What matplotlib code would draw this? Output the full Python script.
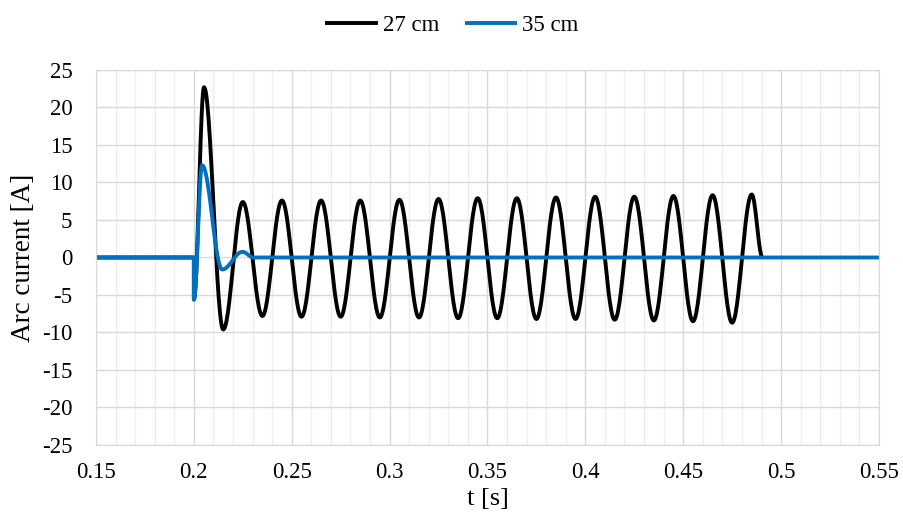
import matplotlib
matplotlib.use("Agg")
import matplotlib.pyplot as plt
from matplotlib.ticker import MultipleLocator
import numpy as np

# extrema (t [s], current [A])
t_27 = [0.15, 0.2, 0.2, 0.2052, 0.2150,
        0.225, 0.235, 0.245, 0.255, 0.265, 0.275, 0.285, 0.295, 0.305, 0.315,
        0.325, 0.335, 0.345, 0.355, 0.365, 0.375, 0.385, 0.395, 0.405, 0.415,
        0.425, 0.435, 0.445, 0.455, 0.465, 0.475, 0.485, 0.4905]
i_27 = [0.0, 0.0, -5.6, 22.7, -9.6,
        7.4, -7.8, 7.6, -7.9, 7.6, -7.9, 7.6, -8.0, 7.7, -8.0,
        7.8, -8.1, 7.9, -8.1, 7.9, -8.2, 8.0, -8.2, 8.1, -8.3,
        8.1, -8.4, 8.2, -8.5, 8.3, -8.7, 8.4, 0.0]

t_35 = [0.15, 0.2, 0.2, 0.2042, 0.2145, 0.2248, 0.2305, 0.55]
i_35 = [0.0, 0.0, -5.6, 12.3, -1.6, 0.75, 0.0, 0.0]

x_labels = ['0.15', '0.2', '0.25', '0.3', '0.35', '0.4', '0.45', '0.5', '0.55']


def smooth(ts, vs, n=30):
    # half-cosine segments between consecutive extrema
    xs, ys = [ts[0]], [vs[0]]
    for k in range(len(ts) - 1):
        t0, t1, v0, v1 = ts[k], ts[k + 1], vs[k], vs[k + 1]
        if t1 - t0 < 1e-9 or (v0 == 0 and v1 == 0):
            xs.append(t1)
            ys.append(v1)
            continue
        s = np.linspace(0, 1, n)[1:]
        xs.extend(t0 + (t1 - t0) * s)
        ys.extend(v0 + (v1 - v0) * (1 - np.cos(np.pi * s)) / 2)
    return np.array(xs), np.array(ys)


plt.rcParams['font.family'] = ['Liberation Serif', 'DejaVu Serif']
plt.rcParams['axes.unicode_minus'] = False

fig = plt.figure(figsize=(9.04, 5.25), dpi=100)
ax = fig.add_axes([0.1062, 0.1524, 0.8661, 0.7143])

x1, y1 = smooth(t_27, i_27)
x2, y2 = smooth(t_35, i_35)
ax.plot(x1, y1, color='black', lw=2.8, label='27 cm', solid_capstyle='butt')
ax.plot(x2, y2, color='#0070C0', lw=2.8, label='35 cm', solid_capstyle='butt')

ax.set_xlim(0.15, 0.55)
ax.set_ylim(-25, 25)
ax.set_xticks(np.arange(0.15, 0.551, 0.05))
ax.set_xticklabels(x_labels)
ax.set_yticks(np.arange(-25, 26, 5))
ax.xaxis.set_minor_locator(MultipleLocator(0.01))
ax.grid(which='major', color='#d9d9d9', lw=1.0)
ax.grid(which='minor', axis='x', color='#eeeeee', lw=1.0)
ax.set_axisbelow(True)
ax.tick_params(which='both', length=0, labelsize=16.5)
ax.tick_params(axis='y', pad=17)
ax.tick_params(axis='x', pad=12)
for sp in ax.spines.values():
    sp.set_color('#d9d9d9')

ax.set_xlabel('t [s]', fontsize=19, labelpad=4)
ax.set_ylabel('Arc current [A]', fontsize=19.5, labelpad=4)

fig.legend(loc='upper center', bbox_to_anchor=(0.5, 1.01), ncol=2, frameon=False,
           fontsize=16.5, handlelength=2.3, handletextpad=0.22, columnspacing=1.1)

fig.savefig('out.png', dpi=100)
